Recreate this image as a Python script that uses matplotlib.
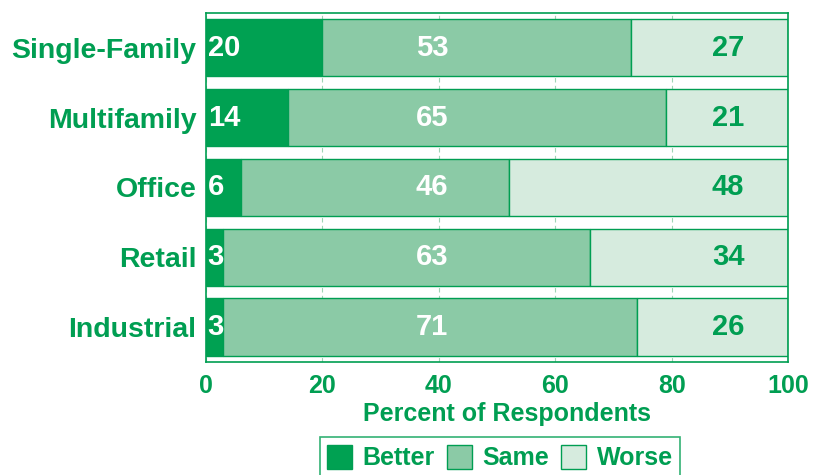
import matplotlib.pyplot as plt

categories = ["Single-Family", "Multifamily", "Office", "Retail", "Industrial"]
better = [20, 14, 6, 3, 3]
same = [53, 65, 46, 63, 71]
worse = [27, 21, 48, 34, 26]
xticks = [0, 20, 40, 60, 80, 100]

GREEN = "#009e52"
DARK = "#00a152"
MID = "#8bcaa6"
LIGHT = "#d6ebde"

plt.rcParams["font.family"] = ["Liberation Sans", "DejaVu Sans"]
plt.rcParams["font.weight"] = "bold"

fig = plt.figure(figsize=(8.13, 4.75), dpi=100)
ax = fig.add_axes([0.2534, 0.238, 0.716, 0.7347])

y = list(range(len(categories)))
h = 0.82
left_same = better
left_worse = [b + s for b, s in zip(better, same)]

ax.barh(y, better, height=h, color=DARK, edgecolor=GREEN, linewidth=1, label="Better", zorder=2)
ax.barh(y, same, left=left_same, height=h, color=MID, edgecolor=GREEN, linewidth=1, label="Same", zorder=2)
ax.barh(y, worse, left=left_worse, height=h, color=LIGHT, edgecolor=GREEN, linewidth=1, label="Worse", zorder=2)

# value labels sit in fixed columns, as in the original
for i in y:
    ax.text(0.3, i, str(better[i]), color="white", fontsize=21, fontweight="bold",
            ha="left", va="center", zorder=3)
    ax.text(38.8, i, str(same[i]), color="white", fontsize=21,
            fontweight="bold", ha="center", va="center", zorder=3)
    ax.text(89.7, i, str(worse[i]), color=GREEN, fontsize=21,
            fontweight="bold", ha="center", va="center", zorder=3)

ax.set_xlim(0, 100)
ax.set_ylim(4.5, -0.5)
ax.set_yticks(y)
ax.set_yticklabels(categories, fontsize=20.5, fontweight="bold", color=GREEN)
ax.set_xticks(xticks)
ax.set_xticklabels([str(t) for t in xticks], fontsize=18, fontweight="bold", color=GREEN)
ax.tick_params(axis="x", length=0, pad=9)
ax.tick_params(axis="y", length=0, pad=7)

ax.xaxis.grid(True, color="#9fd4b5", linestyle=(0, (4, 3)), linewidth=0.8, zorder=0)
for s in ax.spines.values():
    s.set_color(GREEN)
    s.set_linewidth(1.2)

ax.set_xlabel("Percent of Respondents", fontsize=18, fontweight="bold", color=GREEN, labelpad=1)
ax.xaxis.set_label_coords(0.517, -0.115)

leg = fig.legend(loc="upper left", bbox_to_anchor=(0.3936, 0.08), ncol=3, frameon=True,
                 fancybox=False, fontsize=18, handlelength=1.0, handleheight=1.1,
                 handletextpad=0.4, columnspacing=0.5, borderpad=0.3, borderaxespad=0)
leg.get_frame().set_edgecolor(GREEN)
leg.get_frame().set_linewidth(1.2)
for t in leg.get_texts():
    t.set_color(GREEN)
    t.set_fontweight("bold")

fig.savefig("out.png", dpi=100)
